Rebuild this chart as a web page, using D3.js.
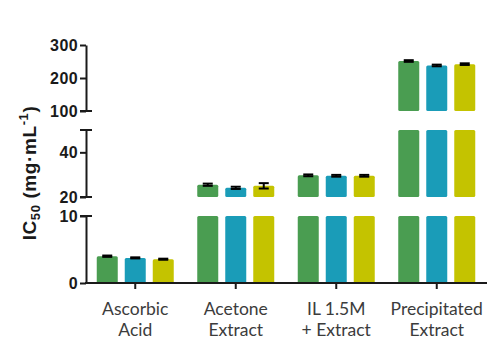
<!DOCTYPE html>
<html><head><meta charset="utf-8">
<script src="https://cdn.jsdelivr.net/npm/d3@7"></script>
<style>body{margin:0;background:#fff}svg{display:block}</style>
</head><body>
<svg id="chart" width="491" height="340"></svg>
<script>
// Categories (two-line labels) and the three measured series
const categories = [["Ascorbic", "Acid"], ["Acetone", "Extract"], ["IL 1.5M", "+ Extract"], ["Precipitated", "Extract"]];
const seriesGreen = [4.0, 25.5, 29.7, 251.5];
const seriesBlue = [3.75, 24.1, 29.5, 238];
const seriesYellow = [3.55, 25.0, 29.5, 242];
const errorGreen = [0.1, 0.5, 0.4, 2.5];
const errorBlue = [0.08, 0.5, 0.4, 2.5];
const errorYellow = [0.08, 1.2, 0.4, 2.5];
const seriesColors = ["#4a9d51", "#1a9cb8", "#c4c300"];

// Broken y axis: three value ranges, each with its own ticks
const segmentDomains = [[0, 10], [20, 50], [100, 300]];
const segmentTicks = [[0, 10], [20, 40], [100, 200, 300]];

const svg = d3.select("#chart");
const axisX = 86;

// pixel extent of each axis segment (bottom to top)
const segmentRanges = [[283, 216], [197, 130], [111, 45]];
const segments = segmentDomains.map((d, i) => ({
  lo: d[0], hi: d[1],
  y: d3.scaleLinear().domain(d).range(segmentRanges[i]),
  ticks: segmentTicks[i]
}));

const x = d3.scaleBand().domain(d3.range(categories.length)).range([85, 487]).padding(0);
const xs = d3.scaleBand().domain([0, 1, 2]).range([-38.5, 38.5]).paddingInner(0.25);

const series = [seriesGreen, seriesBlue, seriesYellow].map((vals, s) => ({
  s, color: seriesColors[s],
  err: [errorGreen, errorBlue, errorYellow][s],
  vals
}));

// bars: each bar is drawn piecewise into every segment it passes through
const barsG = svg.append("g");
series.forEach(ser => {
  ser.vals.forEach((v, i) => {
    const bx = x(i) + x.bandwidth() / 2 + xs(ser.s);
    segments.forEach(seg => {
      if (v <= seg.lo) return;
      const top = Math.min(v, seg.hi);
      barsG.append("rect")
        .attr("x", bx)
        .attr("width", xs.bandwidth())
        .attr("y", seg.y(top))
        .attr("height", seg.y(seg.lo) - seg.y(top))
        .attr("rx", 1.5)
        .attr("fill", ser.color);
    });
  });
});

// error bars
const errG = svg.append("g").attr("stroke", "#000").attr("stroke-width", 2);
series.forEach(ser => {
  ser.vals.forEach((v, i) => {
    const cx = x(i) + x.bandwidth() / 2 + xs(ser.s) + xs.bandwidth() / 2;
    const seg = segments.find(sg => v >= sg.lo && v <= sg.hi);
    const e = ser.err[i];
    const y1 = seg.y(v + e), y0 = seg.y(v - e);
    errG.append("line").attr("x1", cx).attr("x2", cx).attr("y1", y1).attr("y2", y0);
    errG.append("line").attr("x1", cx - 5).attr("x2", cx + 5).attr("y1", y1).attr("y2", y1);
    errG.append("line").attr("x1", cx - 5).attr("x2", cx + 5).attr("y1", y0).attr("y2", y0);
  });
});

// y axis segments
const axG = svg.append("g");
segments.forEach((seg, k) => {
  const g = axG.append("g").attr("transform", `translate(${axisX},0)`);
  g.call(d3.axisLeft(seg.y).tickValues(seg.ticks).tickSize(6).tickSizeOuter(0).tickPadding(2));
  g.select(".domain").attr("stroke", "#1a1a1a").attr("stroke-width", 2);
  g.selectAll(".tick line").attr("stroke", "#1a1a1a").attr("stroke-width", 2);
  g.selectAll(".tick text")
    .attr("font-family", "Liberation Sans, Arial, sans-serif")
    .attr("font-weight", "bold")
    .attr("font-size", 16)
    .attr("letter-spacing", 0.4)
    .attr("fill", "#1a1a1a");
  // break caps at the ends of each segment
  const caps = [];
  if (k > 0) caps.push(seg.y(seg.lo));
  if (k < segments.length - 1) caps.push(seg.y(seg.hi));
  caps.forEach(cy => {
    axG.append("line").attr("x1", axisX - 6).attr("x2", axisX + 6)
      .attr("y1", cy).attr("y2", cy)
      .attr("stroke", "#1a1a1a").attr("stroke-width", 2);
  });
});

// x axis
const xAxisY = segments[0].y(0);
const xg = svg.append("g").attr("transform", `translate(0,${xAxisY})`);
xg.call(d3.axisBottom(x).tickSize(6).tickSizeOuter(0).tickFormat(""));
xg.select(".domain").attr("stroke", "#1a1a1a").attr("stroke-width", 2).attr("d", `M${axisX - 1},0H487`);
xg.selectAll(".tick line").attr("stroke", "#1a1a1a").attr("stroke-width", 2);

// category labels
const labG = svg.append("g")
  .attr("font-family", "Lato, 'Open Sans', sans-serif")
  .attr("font-size", 17.5)
  .attr("fill", "#3c3c3c")
  .attr("text-anchor", "middle");
categories.forEach((lines, i) => {
  const t = labG.append("text").attr("x", x(i) + x.bandwidth() / 2).attr("y", 314.5);
  lines.forEach((ln, j) => {
    t.append("tspan").attr("x", x(i) + x.bandwidth() / 2).attr("dy", j === 0 ? 0 : 21.5).text(ln);
  });
});

// y axis title
const yt = svg.append("text")
  .attr("transform", "translate(36,173) rotate(-90)")
  .attr("text-anchor", "middle")
  .attr("font-family", "Liberation Sans, Arial, sans-serif")
  .attr("font-weight", "bold")
  .attr("font-size", 19)
  .attr("letter-spacing", 0.6)
  .attr("fill", "#1a1a1a");
yt.append("tspan").text("IC");
yt.append("tspan").attr("font-size", 13).attr("dy", 4).text("50");
yt.append("tspan").attr("dy", -4).text(" (mg·mL");
yt.append("tspan").attr("font-size", 13).attr("dy", -8).text("-1");
yt.append("tspan").attr("dy", 8).text(")");
</script>
</body></html>
